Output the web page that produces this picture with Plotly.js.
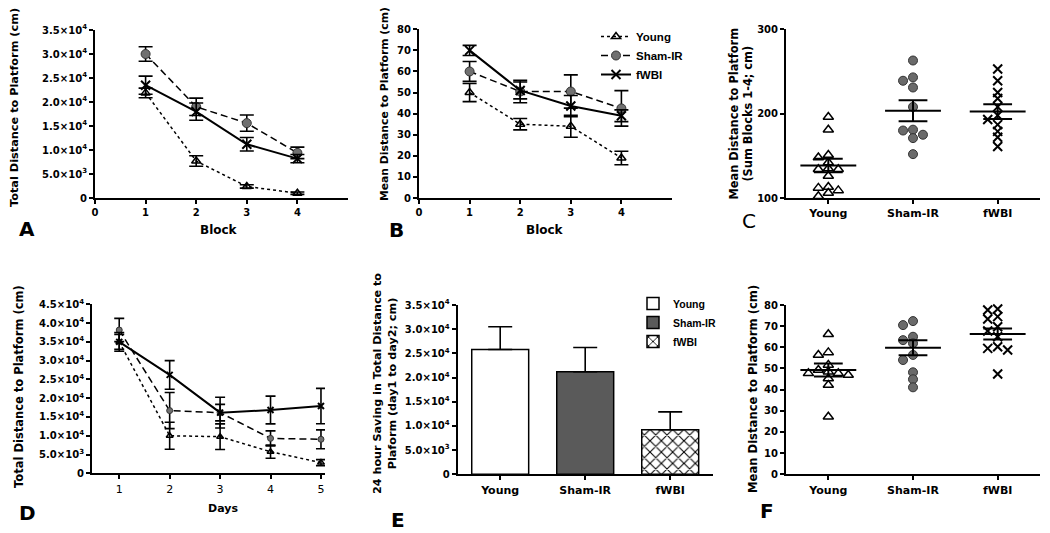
<!DOCTYPE html>
<html><head><meta charset="utf-8">
<script src="https://cdn.plot.ly/plotly-3.0.1.min.js"></script>
<style>html,body{margin:0;padding:0;background:#fff}#chart{width:1050px;height:533px}</style>
</head><body><div id="chart"></div>
<script>
// ---------- DATA ----------
const groups = ['Young', 'Sham-IR', 'fWBI'];
const blocks = [1, 2, 3, 4];
const days = [1, 2, 3, 4, 5];

// Panel A: total distance to platform per block (cm)
const aYoung = [21900, 7700, 2400, 1000];
const aYoungErr = [1000, 1100, 350, 250];
const aSham = [30000, 19000, 15600, 9400];
const aShamErr = [1500, 1800, 1700, 1200];
const aFwbi = [23500, 18000, 11200, 8200];
const aFwbiErr = [1900, 1800, 1400, 850];

// Panel B: mean distance to platform per block (cm)
const bYoung = [50, 35, 34, 19];
const bYoungErr = [4.3, 2.7, 5.2, 3.2];
const bSham = [60, 50.5, 50.5, 42.5];
const bShamErr = [4.7, 5.3, 7.9, 8.4];
const bFwbi = [70, 51, 43.6, 39];
const bFwbiErr = [2.4, 4, 5, 2.8];

// Panel C: individual sums of blocks 1-4
const cYoung = [196, 181, 151, 148, 142, 134, 134, 135, 126, 112, 106, 109, 113, 102];
const cSham = [263, 239, 243, 231, 208, 181, 175, 171, 180, 152];
const cFwbi = [253, 239, 225, 218, 208, 198, 193, 187, 179, 172, 161];
const cMean = [138.5, 203.5, 202.5];
const cSem = [8, 12.5, 8.7];

// Panel D: total distance per day (cm)
const dYoung = [35000, 10000, 9750, 5750, 2850];
const dYoungErr = [2000, 3600, 3400, 1750, 800];
const dSham = [38150, 16700, 16150, 9300, 9050];
const dShamErr = [3100, 4800, 2200, 2000, 2500];
const dFwbi = [35000, 26200, 16150, 16850, 17900];
const dFwbiErr = [2500, 3800, 4100, 3700, 4700];

// Panel E: 24 hour saving (day1 to day2)
const eValues = [25800, 21200, 9200];
const eErr = [4700, 5000, 3700];

// Panel F: individual mean distance (cm)
const fYoung = [66.2, 57.6, 56.4, 51.7, 49.3, 48.5, 47.7, 47.7, 46.9, 45.3, 42.2, 27.2];
const fSham = [72.4, 70.5, 65.0, 63.4, 61.9, 56.4, 54.0, 48.2, 44.9, 41.1];
const fFwbi = [78.1, 77.6, 74.5, 73.4, 69.7, 67.7, 65.0, 60.3, 59.5, 58.7, 47.4];
const fMean = [49.3, 59.8, 66.3];
const fSem = [3.1, 3.6, 2.6];

// tick values
const tickA = [0, 5000, 10000, 15000, 20000, 25000, 30000, 35000];
const tickD = [0, 5000, 10000, 15000, 20000, 25000, 30000, 35000, 40000, 45000];
const tickE = [0, 5000, 10000, 15000, 20000, 25000, 30000, 35000];
const tickB = [0, 10, 20, 30, 40, 50, 60, 70, 80];
const tickC = [100, 200, 300];
const tickF = [0, 10, 20, 30, 40, 50, 60, 70, 80];
const tickBlock = [0, 1, 2, 3, 4];

// ---------- HELPERS ----------
const W = 1050, H = 533;
const FAM = 'DejaVu Sans';
function fmtSci(v) {
  if (v === 0) return '0';
  const e = Math.floor(Math.log10(v) + 1e-9);
  const m = v / Math.pow(10, e);
  return m.toFixed(1) + '×10<sup>' + e + '</sup>';
}
const dx = (a, b) => [a / W, b / W];
const dy = (top, bottom) => [1 - bottom / H, 1 - top / H];

function axis(domain, range, anchor, extra) {
  return Object.assign({
    domain, range, anchor,
    showline: true, linecolor: '#000', linewidth: 2,
    ticks: 'outside', ticklen: 4, tickwidth: 2, tickcolor: '#000',
    showgrid: false, zeroline: false, fixedrange: true,
    tickfont: {family: FAM, size: 10, color: '#000', weight: 'bold'}
  }, extra || {});
}

const styles = {
  Young: {dash: '3px,3px', lw: 1.5, marker: {symbol: 'triangle-up-open', size: 8, color: '#000', line: {color: '#000', width: 1.5}}},
  Sham: {dash: '7px,4px', lw: 1.5, marker: {symbol: 'circle', size: 9, color: '#707070', line: {color: '#333', width: 1}}},
  Fwbi: {dash: 'solid', lw: 2, marker: {symbol: 'x-thin', size: 9, color: '#000', line: {color: '#000', width: 2}}}
};

function lineTrace(name, key, x, y, err, xa, ya, showlegend, msize, capw) {
  const st = styles[key];
  const mk = JSON.parse(JSON.stringify(st.marker));
  if (msize) mk.size = msize;
  return {
    type: 'scatter', mode: 'lines+markers', name, x, y,
    xaxis: xa, yaxis: ya, showlegend: !!showlegend, cliponaxis: false,
    line: {color: '#000', width: st.lw, dash: st.dash},
    marker: mk,
    error_y: {type: 'data', array: err, color: '#000', thickness: 1.6, width: capw || 6}
  };
}

// simple beeswarm: spread points of nearly equal value sideways
function swarm(values, pxPerUnit, pxPerCat, step, minGap) {
  const order = values.map((v, i) => i).sort((a, b) => values[b] - values[a]);
  const placed = [];
  const res = new Array(values.length).fill(0);
  for (const i of order) {
    const ypx = values[i] * pxPerUnit;
    for (let k = 0; k < 30; k++) {
      const m = k === 0 ? 0 : (k % 2 ? -Math.ceil(k / 2) : Math.ceil(k / 2));
      const xpx = m * step;
      if (placed.every(p => Math.hypot(p.x - xpx, p.y - ypx) >= minGap)) {
        placed.push({x: xpx, y: ypx});
        res[i] = xpx / pxPerCat;
        break;
      }
    }
  }
  return res;
}

function scatterPanel(vals, means, sems, xa, ya, pxPerUnit) {
  const keys = ['Young', 'Sham', 'Fwbi'];
  const tr = [];
  vals.forEach((v, gi) => {
    const off = swarm(v, pxPerUnit, 85, 10, 5.5);
    const mk = JSON.parse(JSON.stringify(styles[keys[gi]].marker));
    mk.size = 9;
    if (keys[gi] === 'Sham') mk.color = '#6a6a6a';
    tr.push({type: 'scatter', mode: 'markers', x: v.map((_, j) => gi + off[j]), y: v,
      xaxis: xa, yaxis: ya, showlegend: false, cliponaxis: false, marker: mk});
  });
  const lx = [], ly = [];
  means.forEach((m, gi) => {
    const s = sems[gi];
    lx.push(gi - 0.33, gi + 0.33, null, gi - 0.17, gi + 0.17, null, gi - 0.17, gi + 0.17, null, gi, gi, null);
    ly.push(m, m, null, m + s, m + s, null, m - s, m - s, null, m - s, m + s, null);
  });
  tr.push({type: 'scatter', mode: 'lines', x: lx, y: ly, xaxis: xa, yaxis: ya,
    showlegend: false, cliponaxis: false, line: {color: '#000', width: 2}, hoverinfo: 'skip'});
  return tr;
}

// ---------- TRACES ----------
const traces = [];
// A
traces.push(lineTrace('Young', 'Young', blocks, aYoung, aYoungErr, 'x', 'y', false, 8, 7));
traces.push(lineTrace('Sham-IR', 'Sham', blocks, aSham, aShamErr, 'x', 'y', false, 9, 7));
traces.push(lineTrace('fWBI', 'Fwbi', blocks, aFwbi, aFwbiErr, 'x', 'y', false, 9, 7));
// B (with legend)
traces.push(lineTrace('Young', 'Young', blocks, bYoung, bYoungErr, 'x2', 'y2', true, 8, 7));
traces.push(lineTrace('Sham-IR', 'Sham', blocks, bSham, bShamErr, 'x2', 'y2', true, 9, 7));
traces.push(lineTrace('fWBI', 'Fwbi', blocks, bFwbi, bFwbiErr, 'x2', 'y2', true, 9, 7));
// C
traces.push(...scatterPanel([cYoung, cSham, cFwbi], cMean, cSem, 'x3', 'y3', 168.7 / 200));
// D
traces.push(lineTrace('Young', 'Young', days, dYoung, dYoungErr, 'x4', 'y4', false, 6, 5));
traces.push(lineTrace('Sham-IR', 'Sham', days, dSham, dShamErr, 'x4', 'y4', false, 6, 5));
traces.push(lineTrace('fWBI', 'Fwbi', days, dFwbi, dFwbiErr, 'x4', 'y4', false, 6, 5));
// E bars
const barFill = [
  {color: '#ffffff'},
  {color: '#5a5a5a'},
  {color: '#ffffff', pattern: {shape: 'x', fgcolor: '#000', bgcolor: '#fff', size: 8, solidity: 0.25}}
];
groups.forEach((g, i) => {
  traces.push({
    type: 'bar', name: g, x: [i], y: [eValues[i]], width: 0.67,
    xaxis: 'x5', yaxis: 'y5', legend: 'legend2', showlegend: true,
    marker: Object.assign({line: {color: '#000', width: 1.5}}, barFill[i]),
    error_y: {type: 'data', symmetric: false, array: [eErr[i]], arrayminus: [0], color: '#000', thickness: 1.6, width: 12}
  });
});
// F
traces.push(...scatterPanel([fYoung, fSham, fFwbi], fMean, fSem, 'x6', 'y6', 169.3 / 80));

// ---------- LAYOUT ----------
const sciTicks = t => ({tickmode: 'array', tickvals: t, ticktext: t.map(fmtSci)});
const catTicks = {tickmode: 'array', tickvals: [0, 1, 2], ticktext: groups,
  tickfont: {family: FAM, size: 11, color: '#000', weight: 'bold'}};

function ann(text, xpx, ypx, size, opts) {
  return Object.assign({
    text, x: xpx / W, y: 1 - ypx / H, xref: 'paper', yref: 'paper', showarrow: false,
    xanchor: 'center', yanchor: 'middle',
    font: {family: FAM, size, color: '#000', weight: 'bold'}
  }, opts || {});
}

const layout = {
  width: W, height: H,
  margin: {l: 0, r: 0, t: 0, b: 0},
  paper_bgcolor: '#fff', plot_bgcolor: 'rgba(0,0,0,0)',
  barmode: 'overlay',
  showlegend: true,
  xaxis: axis(dx(95, 348), [0, 5], 'y', {tickmode: 'array', tickvals: tickBlock}),
  yaxis: axis(dy(30, 198), [0, 35000], 'x', sciTicks(tickA)),
  xaxis2: axis(dx(419, 672), [0, 5], 'y2', {tickmode: 'array', tickvals: tickBlock}),
  yaxis2: axis(dy(29.3, 198), [0, 80], 'x2', {tickmode: 'array', tickvals: tickB}),
  xaxis3: axis(dx(786, 1040), [-0.5, 2.5], 'y3', catTicks),
  yaxis3: axis(dy(29.3, 198), [100, 300], 'x3', {tickmode: 'array', tickvals: tickC}),
  xaxis4: axis(dx(92, 325), [0.46, 5.08], 'y4', {tickmode: 'array', tickvals: days,
    tickfont: {family: FAM, size: 11, color: '#000'}}),
  yaxis4: axis(dy(304.3, 473.3), [0, 45000], 'x4', sciTicks(tickD)),
  xaxis5: axis(dx(457.7, 712.7), [-0.5, 2.5], 'y5', catTicks),
  yaxis5: axis(dy(305, 474.3), [0, 35000], 'x5', sciTicks(tickE)),
  xaxis6: axis(dx(786, 1040), [-0.5, 2.5], 'y6', catTicks),
  yaxis6: axis(dy(305, 474.3), [0, 80], 'x6', {tickmode: 'array', tickvals: tickF}),
  legend: {x: 596 / W, y: 1 - 22 / H, xanchor: 'left', yanchor: 'top', bgcolor: 'rgba(0,0,0,0)',
    borderwidth: 0, font: {family: 'Liberation Sans', size: 11.5, color: '#000', weight: 'bold'},
    tracegroupgap: 0, itemclick: false},
  legend2: {x: 633 / W, y: 1 - 289 / H, xanchor: 'left', yanchor: 'top', bgcolor: 'rgba(0,0,0,0)',
    borderwidth: 0, font: {family: 'Liberation Sans', size: 10.5, color: '#000', weight: 'bold'},
    tracegroupgap: 0, itemclick: false},
  annotations: [
    // axis titles
    ann('Total Distance to Platform (cm)', 14.5, 107.5, 11.3, {textangle: -90}),
    ann('Block', 219, 230, 12),
    ann('Mean Distance to Platform (cm)', 385, 104, 10.8, {textangle: -90}),
    ann('Block', 545, 230, 12),
    ann('Mean Distance to Platform<br>(Sum Blocks 1-4; cm)', 740.5, 114, 11.4, {textangle: -90}),
    ann('Total Distance to Platform (cm)', 19, 387, 11.5, {textangle: -90}),
    ann('Days', 223, 508, 11),
    ann('24 hour Saving in Total Distance to<br>Plaform (day1 to day2; cm)', 385, 384, 11.2, {textangle: -90}),
    ann('Mean Distance to Platform (cm)', 753, 389, 11.6, {textangle: -90}),
    // panel letters
    ann('A', 27, 229, 20),
    ann('B', 396.5, 229.5, 20),
    ann('C', 749, 221, 20, {font: {family: FAM, size: 20, color: '#000'}}),
    ann('D', 27.5, 513, 20),
    ann('E', 398, 520, 20),
    ann('F', 767, 511, 20)
  ]
};

Plotly.newPlot('chart', traces, layout, {staticPlot: true, displayModeBar: false});
</script></body></html>
